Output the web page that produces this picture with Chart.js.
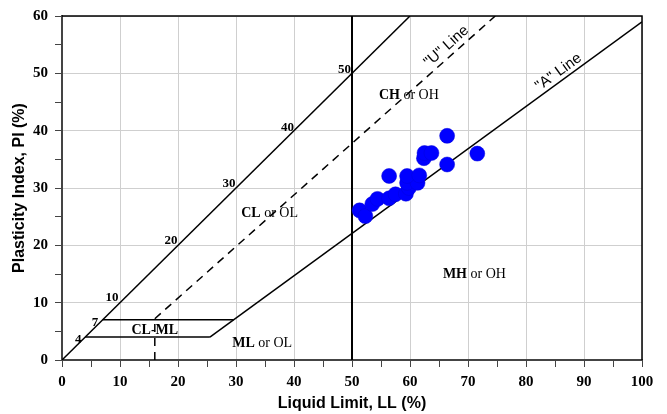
<!DOCTYPE html>
<html><head><meta charset="utf-8">
<script src="https://cdn.jsdelivr.net/npm/chart.js@4.4.0/dist/chart.umd.min.js"></script>
<style>html,body{margin:0;padding:0;background:#fff;}#wrap{width:667px;height:414px;}</style>
</head><body><div id="wrap"><canvas id="c" width="667" height="414"></canvas></div>
<script>
// Sample data (Liquid Limit, Plasticity Index)
const sampleLL = [51.3, 52.3, 53.5, 54.4, 56.4, 57.5, 59.3, 59.8, 59.5, 61.3, 56.4, 59.5, 61.6, 62.4, 62.5, 63.7, 66.4, 66.4, 71.6];
const samplePI = [26.1, 25.1, 27.2, 28.1, 28.2, 28.9, 29.0, 30.0, 30.9, 30.9, 32.1, 32.1, 32.2, 35.2, 36.1, 36.1, 34.1, 39.1, 36.0];

// Reference lines of the plasticity chart
const diagLL = [0, 60];           const diagPI = [0, 60];
const aLineLL = [25.5, 100];      const aLinePI = [4, 59];
const uLineLL = [16, 74.7];       const uLinePI = [7.2, 60];
const uVertLL = [16, 16];         const uVertPI = [0, 7.2];
const h4LL = [4, 25.5];           const h4PI = [4, 4];
const h7LL = [7, 29.6];           const h7PI = [7, 7];
const v50LL = [50, 50];           const v50PI = [0, 60];

// Labels along the PI = LL line
const diagLabels = ['4', '7', '10', '20', '30', '40', '50'];
const diagLabelLL = [2.8, 5.7, 8.6, 18.8, 28.8, 38.9, 48.7];
const diagLabelPI = [3.6, 6.6, 10.9, 20.75, 30.7, 40.6, 50.7];

// Zone labels [bold part, normal part]
const zoneBold = ['CH', 'CL', 'MH', 'ML', 'CL-ML'];
const zoneNormal = [' or OH', ' or OL', ' or OH', ' or OL', ''];
const zoneLL = [59.8, 35.8, 71.1, 34.5, 16];
const zonePI = [46.1, 25.5, 14.9, 2.9, 5.2];

const xTickValues = [0, 10, 20, 30, 40, 50, 60, 70, 80, 90, 100];
const yTickValues = [0, 10, 20, 30, 40, 50, 60];

function pts(xs, ys) { return xs.map((x, i) => ({x: x, y: ys[i]})); }
function lineDs(xs, ys, dash, w) {
  return {type: 'scatter', showLine: true, data: pts(xs, ys), borderColor: '#000', borderWidth: w || 1.5,
    borderDash: dash || [], pointRadius: 0, pointHoverRadius: 0, fill: false};
}

const serif = "'Liberation Serif', 'Times New Roman', serif";
const sans = "'Liberation Sans', Arial, sans-serif";

const labelPlugin = {
  id: 'labels',
  afterDatasetsDraw(chart) {
    const ctx = chart.ctx, xs = chart.scales.x, ys = chart.scales.y, a = chart.chartArea;
    ctx.save();
    // top and right border
    ctx.strokeStyle = '#000'; ctx.lineWidth = 1.5;
    ctx.beginPath(); ctx.moveTo(a.left, a.top); ctx.lineTo(a.right, a.top); ctx.lineTo(a.right, a.bottom); ctx.stroke();
    // diagonal numbers
    ctx.fillStyle = '#000'; ctx.textAlign = 'center'; ctx.textBaseline = 'middle';
    ctx.font = 'bold 13px ' + serif;
    diagLabels.forEach((t, i) => ctx.fillText(t, xs.getPixelForValue(diagLabelLL[i]), ys.getPixelForValue(diagLabelPI[i])));
    // zone labels
    zoneBold.forEach((b, i) => {
      const n = zoneNormal[i];
      ctx.font = 'bold 14px ' + serif; const wb = ctx.measureText(b).width;
      ctx.font = '14px ' + serif; const wn = ctx.measureText(n).width;
      let x0 = xs.getPixelForValue(zoneLL[i]) - (wb + wn) / 2, y0 = ys.getPixelForValue(zonePI[i]);
      ctx.textAlign = 'left';
      ctx.font = 'bold 14px ' + serif; ctx.fillText(b, x0, y0);
      ctx.font = '14px ' + serif; ctx.fillText(n, x0 + wb, y0);
    });
    // rotated line labels
    const rot = (text, ll, pi, lx, ly) => {
      const ang = Math.atan2(ys.getPixelForValue(ly[1]) - ys.getPixelForValue(ly[0]), xs.getPixelForValue(lx[1]) - xs.getPixelForValue(lx[0]));
      ctx.save();
      ctx.translate(xs.getPixelForValue(ll), ys.getPixelForValue(pi));
      ctx.rotate(ang);
      ctx.font = '15px ' + sans; ctx.textAlign = 'center'; ctx.textBaseline = 'middle';
      ctx.fillText(text, 0, 0);
      ctx.restore();
    };
    rot('"U" Line', 66.3, 54.7, uLineLL, uLinePI);
    rot('"A" Line', 85.6, 50.2, aLineLL, aLinePI);
    ctx.restore();
  }
};

const gridColor = c => (c.tick && c.tick.value % 10 === 0) ? '#cfcfcf' : 'rgba(0,0,0,0)';

new Chart(document.getElementById('c'), {
  data: {
    datasets: [
      {type: 'scatter', data: pts(sampleLL, samplePI), backgroundColor: '#0000ff', borderColor: '#0000dd', borderWidth: 0.5, pointRadius: 7.5, pointHoverRadius: 7.5},
      lineDs(diagLL, diagPI),
      lineDs(aLineLL, aLinePI),
      lineDs(uLineLL, uLinePI, [8, 6]),
      lineDs(uVertLL, uVertPI, [8, 6]),
      lineDs(h4LL, h4PI),
      lineDs(h7LL, h7PI),
      lineDs(v50LL, v50PI, [], 2)
    ]
  },
  options: {
    responsive: false, animation: false, devicePixelRatio: 1,
    layout: {padding: {left: 0, top: 13, right: 25, bottom: 0}},
    plugins: {legend: {display: false}, tooltip: {enabled: false}},
    scales: {
      x: {type: 'linear', min: 0, max: 100,
        afterFit: s => { s.height = 54; },
        afterBuildTicks: s => { s.ticks = []; for (let v = 0; v <= 100; v += 5) s.ticks.push({value: v}); },
        ticks: {autoSkip: false, maxRotation: 0, padding: 6, color: '#000',
          font: {family: serif, weight: 'bold', size: 15},
          callback: v => xTickValues.includes(v) ? String(v) : ''},
        grid: {color: gridColor, tickColor: '#444', tickLength: 7, lineWidth: 1},
        border: {color: '#444', width: 2},
        title: {display: true, text: 'Liquid Limit, LL (%)', color: '#000', padding: {top: 0, bottom: 1},
          font: {family: sans, weight: 'bold', size: 16}}
      },
      y: {type: 'linear', min: 0, max: 60,
        afterFit: s => { s.width = 62; },
        afterBuildTicks: s => { s.ticks = []; for (let v = 0; v <= 60; v += 5) s.ticks.push({value: v}); },
        ticks: {autoSkip: false, padding: 7, color: '#000',
          font: {family: serif, weight: 'bold', size: 15},
          callback: v => yTickValues.includes(v) ? String(v) : ''},
        grid: {color: gridColor, tickColor: '#444', tickLength: 7, lineWidth: 1},
        border: {color: '#444', width: 2},
        title: {display: true, text: 'Plasticity Index, PI (%)', color: '#000', padding: {top: 10, bottom: 0},
          font: {family: sans, weight: 'bold', size: 16}}
      }
    }
  },
  plugins: [labelPlugin]
});
</script></body></html>
